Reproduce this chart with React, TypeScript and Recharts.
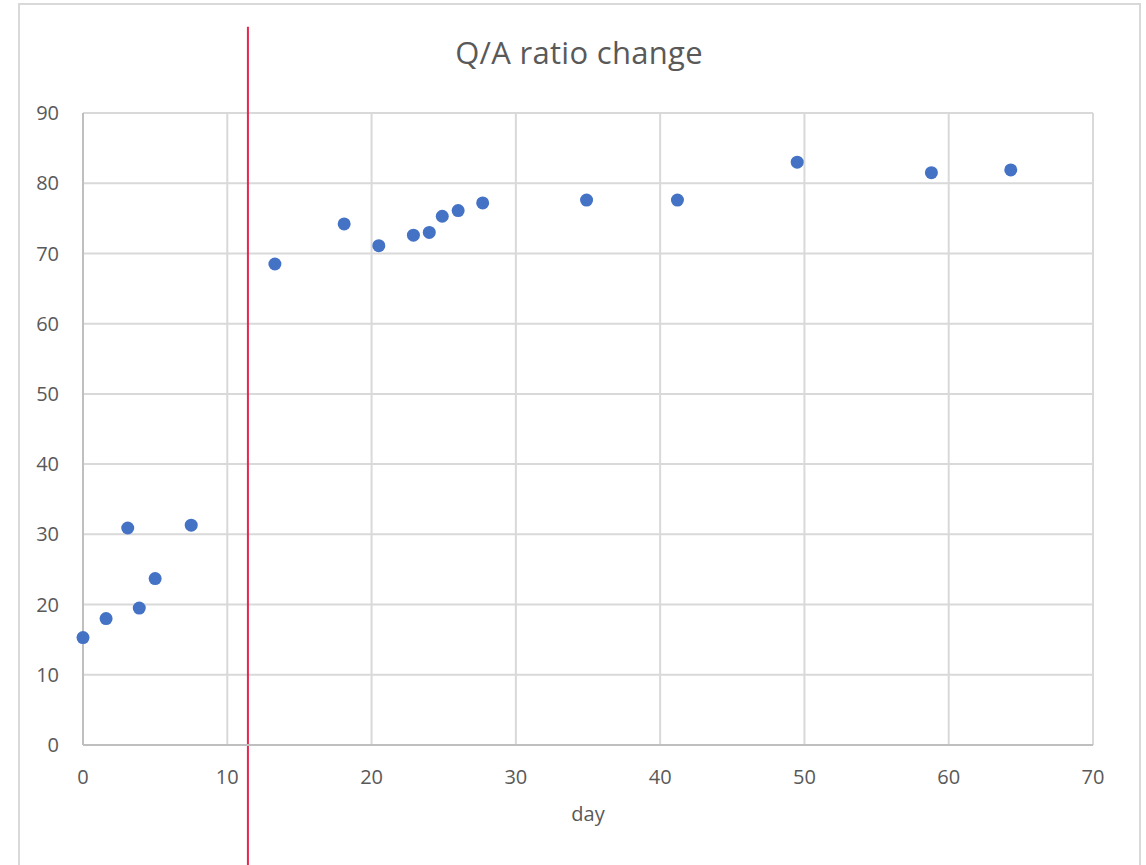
import { ScatterChart, Scatter, XAxis, YAxis, CartesianGrid, ReferenceLine } from "recharts";

const days = [0, 1.6, 3.1, 3.9, 5.0, 7.5, 13.3, 18.1, 20.5, 22.9, 24.0, 24.9, 26.0, 27.7, 34.9, 41.2, 49.5, 58.8, 64.3];
const ratios = [15.3, 18.0, 30.9, 19.5, 23.7, 31.3, 68.5, 74.2, 71.1, 72.6, 73.0, 75.3, 76.1, 77.2, 77.6, 77.6, 83.0, 81.5, 81.9];
const xTicks = [0, 10, 20, 30, 40, 50, 60, 70];
const yTicks = [0, 10, 20, 30, 40, 50, 60, 70, 80, 90];
const cutoffDay = 11.43;

const points = days.map((d, i) => ({ day: d, ratio: ratios[i] }));

const FONT = "'Open Sans', sans-serif";
const GREY_TEXT = "#595959";

const Dot = (props: any) => <circle cx={props.cx} cy={props.cy} r={6.5} fill="#4472c4" />;

export default function App() {
  return (
    <div style={{ position: "relative", width: 1146, height: 865, overflow: "hidden", background: "#fff", fontFamily: FONT }}>
      <style>{`body{margin:0}`}</style>
      <div style={{ position: "absolute", left: 18, top: 3, width: 1119, height: 900, border: "2px solid #d9d9d9" }} />
      <div style={{ position: "absolute", left: 19, width: 1120, top: 37, textAlign: "center", fontSize: 31, lineHeight: 1, color: GREY_TEXT, letterSpacing: 0.3 }}>
        Q/A ratio change
      </div>
      <div style={{ position: "absolute", left: 0, top: 0 }}>
        <ScatterChart width={1146} height={865} margin={{ top: 113, right: 53, bottom: 0, left: 0 }}>
          <CartesianGrid stroke="#d9d9d9" strokeWidth={2} />
          <XAxis
            type="number"
            dataKey="day"
            domain={[0, 70]}
            ticks={xTicks}
            height={120}
            tickSize={0}
            tickMargin={25}
            axisLine={{ stroke: "#bfbfbf", strokeWidth: 2 }}
            tickLine={false}
            tick={{ fill: GREY_TEXT, fontSize: 20, fontFamily: FONT }}
            label={{ value: "day", position: "insideTop", offset: 62, fill: GREY_TEXT, fontSize: 20, fontFamily: FONT }}
          />
          <YAxis
            type="number"
            dataKey="ratio"
            domain={[0, 90]}
            ticks={yTicks}
            width={83}
            tickSize={0}
            tickMargin={24}
            axisLine={{ stroke: "#bfbfbf", strokeWidth: 2 }}
            tickLine={false}
            tick={{ fill: GREY_TEXT, fontSize: 20, fontFamily: FONT }}
          />
          <Scatter data={points} fill="#4472c4" shape={Dot} isAnimationActive={false} />
          <ReferenceLine
            ifOverflow="visible"
            segment={[
              { x: cutoffDay, y: 102.3 },
              { x: cutoffDay, y: -20 },
            ]}
            stroke="#e8254f"
            strokeWidth={2}
          />
        </ScatterChart>
      </div>
    </div>
  );
}
